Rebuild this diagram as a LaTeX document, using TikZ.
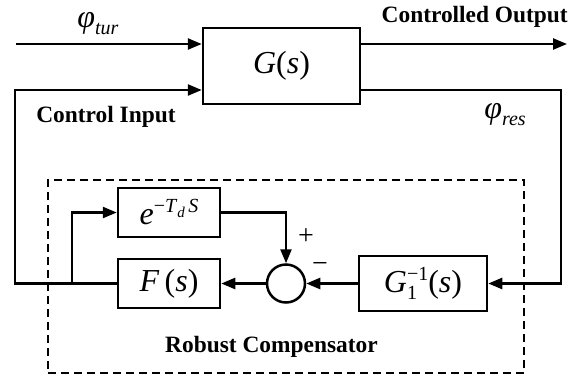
\documentclass[tikz,border=0pt]{standalone}
\usepackage{fontspec}
\setmainfont{Liberation Serif}
\usetikzlibrary{arrows.meta}
\newcommand\myBig{\fontsize{32}{34}\selectfont}
\newcommand\mySup{\fontsize{20}{22}\selectfont}
\newcommand\mySub{\fontsize{15}{17}\selectfont}
\newcommand\myLbl{\fontsize{23.4}{26}\selectfont\bfseries}
\begin{document}
\begin{tikzpicture}[x=1pt,y=-1pt,
  blk/.style={draw,line width=2.5pt,inner sep=0pt,fill=white},
  arr/.style={line width=2.5pt,-{Triangle[length=14pt,width=11pt]}},
  txt/.style={inner sep=0pt}]
\useasboundingbox (0,0) rectangle (578,378);
% dashed compensator frame
\node[draw,dash pattern=on 8pt off 5pt,line width=1.8pt,minimum width=476pt,minimum height=193pt,inner sep=0pt] (D) at (286,276.5) {};
% blocks
\node[blk,minimum width=157pt,minimum height=76pt] (G) at (281.5,66) {\myBig\textit{G}(\textit{s})};
\node[blk,minimum width=102pt,minimum height=49pt] (E) at (169,212.5)
  {\myBig\textit{e}\raisebox{12pt}{\mySup−\textit{T}\raisebox{-5pt}{\mySub\textit{d}}\,\textit{S}}};
\node[blk,minimum width=102pt,minimum height=49pt] (F) at (169,283.5) {\myBig\textit{F}\,(\textit{s})};
\node[blk,circle,minimum size=38pt] (C) at (286,283.5) {};
\node[blk,minimum width=128pt,minimum height=55pt] (H) at (423,283.5)
  {\myBig\textit{G}\makebox[0pt][l]{\raisebox{-7pt}{\mySup 1}}\raisebox{12pt}{\mySup−1}(\textit{s})};
% coordinates
\coordinate (in1) at (16,44);
\coordinate (out) at (567,44);
\coordinate (fbL) at (15,90);
\coordinate (fbR) at (561,90);
\coordinate (brx) at (72,0);
% connectors
\draw[arr] (in1) -- (in1 -| G.west);
\draw[arr] (out -| G.east) -- (out);
\draw[arr] (F.west) -- (F.west -| fbL) -- (fbL) -- (fbL -| G.west);
\draw[arr] (F.west -| brx) -- (E.west -| brx) -- (E.west);
\draw[arr] (E.east) -- (E.east -| C.north) -- (C.north);
\draw[arr] (fbR -| G.east) -- (fbR) -- (fbR |- H.east) -- (H.east);
\draw[arr] (H.west) -- (C.east);
\draw[arr] (C.west) -- (F.east);
% labels
\node[txt] (ltur) at (98,24) {\myBig\textit{φ}\raisebox{-7pt}{\mySup\textit{tur}}};
\node[txt] (lres) at (505,115) {\myBig\textit{φ}\raisebox{-7pt}{\mySup\textit{res}}};
\node[txt] (lci) at (106,117) {\myLbl Control Input};
\node[txt,anchor=east] (lco) at (568,17) {\myLbl Controlled Output};
\node[txt] (lrc) at (271.5,347) {\myLbl Robust Compensator};
\node[txt] (lp) at (306,237) {\fontsize{28}{30}\selectfont +};
\node[txt] (lm) at (320,267) {\fontsize{28}{30}\selectfont −};
\end{tikzpicture}
\end{document}
